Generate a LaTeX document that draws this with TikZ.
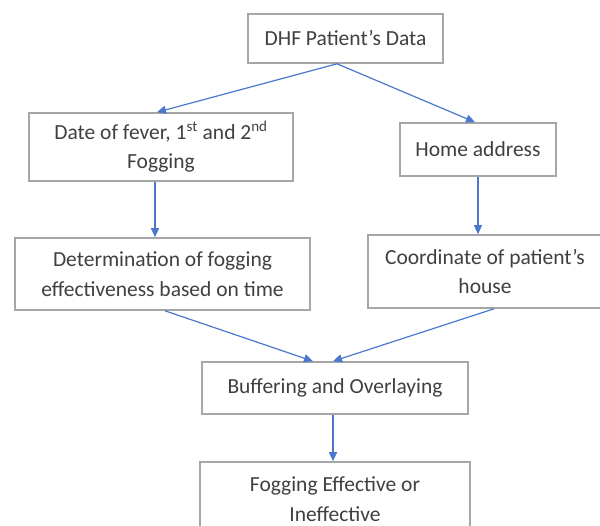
\documentclass[tikz,border=0pt]{standalone}
\usepackage{fontspec}
\setmainfont{Carlito}
\usetikzlibrary{arrows.meta,calc}
\definecolor{boxgray}{HTML}{A6A6A6}
\definecolor{arrblue}{HTML}{4A78CC}
\definecolor{txt}{HTML}{404040}
\begin{document}
\begin{tikzpicture}[x=1pt,y=-1pt,
  box/.style={draw=boxgray, line width=1.6pt, inner sep=0pt, align=center, text=txt,
              font=\fontsize{21.5}{29.5}\selectfont},
  arr/.style={draw=arrblue, line width=1.2pt, -{Triangle[length=9pt,width=8pt]}}]
\useasboundingbox (0,0) rectangle (600,526);
\fill[white] (0,0) rectangle (600,526);
\node[box, minimum width=195, minimum height=49] (dhf) at (345.5,38.5) {DHF Patient's Data};
\node[box, minimum width=264, minimum height=68] (date) at (161,147) {Date of fever, 1\textsuperscript{st} and 2\textsuperscript{nd}\\Fogging};
\node[box, minimum width=156, minimum height=53] (home) at (478,149.5) {Home address};
\node[box, minimum width=295, minimum height=72] (det) at (162.5,274) {Determination of fogging\\effectiveness based on time};
\node[box, minimum width=234, minimum height=73] (coord) at (485,271.5) {Coordinate of patient's\\house};
\node[box, minimum width=266, minimum height=52] (buff) at (335,388) {Buffering and Overlaying};
\node[box, minimum width=270, minimum height=74] (fog) at (335,499) {Fogging Effective or\\Ineffective};
\draw[arr] ($(dhf.south)+(-8.5,0)$) -- ($(date.north)+(-4,0)$);
\draw[arr] ($(dhf.south)+(-8.5,0)$) -- ($(home.north)+(-3,0)$);
\draw[arr] ($(date.south)+(-6,0)$) -- ($(det.north)+(-7.5,0)$);
\draw[arr] (home.south) -- ($(coord.north)+(-7,0)$);
\draw[arr] ($(det.south)+(2.5,0)$) -- ($(buff.north)+(-22,0)$);
\draw[arr] ($(coord.south)+(9,0)$) -- ($(buff.north)+(-2,0)$);
\draw[arr] ($(buff.south)+(-2,0)$) -- ($(fog.north)+(-2,0)$);
\end{tikzpicture}
\end{document}
